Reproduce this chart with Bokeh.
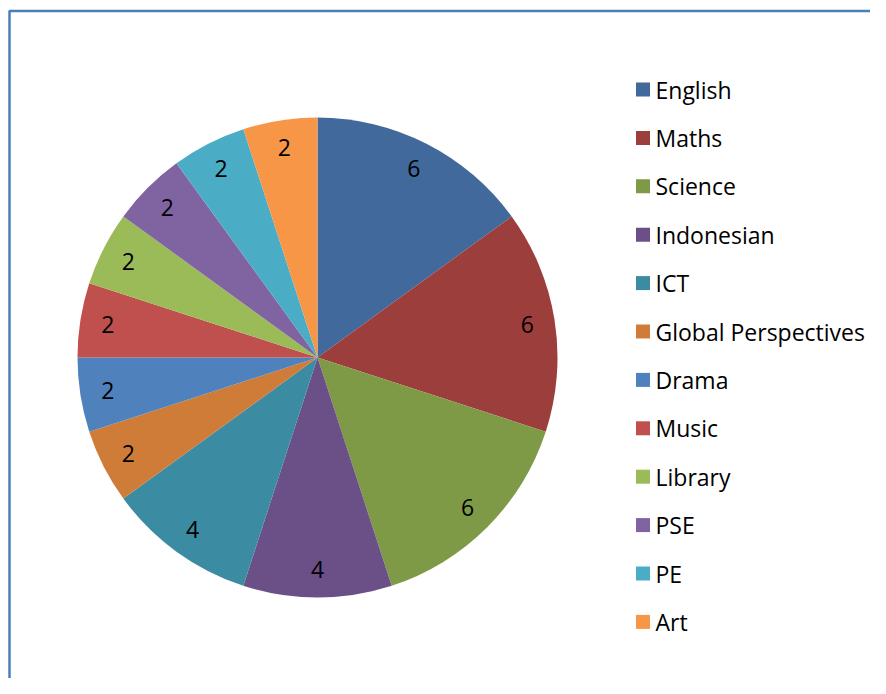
import math
from bokeh.plotting import figure
from bokeh.models import Range1d, ColumnDataSource
from bokeh.core.properties import value
from bokeh.embed import file_html
from bokeh.resources import INLINE

subjects = ["English", "Maths", "Science", "Indonesian", "ICT", "Global Perspectives",
            "Drama", "Music", "Library", "PSE", "PE", "Art"]
hours = [6, 6, 6, 4, 4, 2, 2, 2, 2, 2, 2, 2]
colors = ["#41699C", "#9C3E3B", "#7F9A47", "#6A5087", "#3B8BA3", "#D07C39",
          "#4F81BD", "#C0504D", "#9BBB59", "#8064A2", "#4BACC6", "#F79646"]

W, H = 870, 678
FONT = "Open Sans"
FS = "23px"

p = figure(width=W, height=H, output_backend="svg", toolbar_location=None,
           x_range=Range1d(0, W), y_range=Range1d(0, H), min_border=0,
           background_fill_color="white", border_fill_color="white")
p.axis.visible = False
p.grid.visible = False
p.outline_line_color = None

# pie geometry (screen-pixel data units)
cx, cy, r = 317, 321, 240
total = sum(hours)
starts, ends, lx, ly, labels = [], [], [], [], []
cum = 0.0
for h in hours:
    c0 = cum / total
    cum += h
    c1 = cum / total
    starts.append(math.pi / 2 - 2 * math.pi * c1)
    ends.append(math.pi / 2 - 2 * math.pi * c0)
    mid = math.pi / 2 - 2 * math.pi * (c0 + c1) / 2
    lx.append(cx + 0.885 * r * math.cos(mid))
    ly.append(cy + 0.885 * r * math.sin(mid))
    labels.append(str(h))

src = ColumnDataSource(dict(start=starts, end=ends, color=colors, lx=lx, ly=ly,
                            label=labels, name=subjects))
p.wedge(x=cx, y=cy, radius=r, start_angle="start", end_angle="end",
        direction="anticlock", fill_color="color", line_color=None, source=src)
p.text(x="lx", y="ly", text="label", source=src, text_font=value(FONT),
       text_font_size=FS, text_align="center", text_baseline="middle",
       text_color="#000000")

# legend
n = len(subjects)
row0, step = 589, 48.4
leg_y = [row0 - step * i for i in range(n)]
leg = ColumnDataSource(dict(y=leg_y, color=colors, name=subjects))
p.rect(x=642.5, y="y", width=14, height=14, fill_color="color", line_color=None, source=leg)
p.text(x=655, y="y", text="name", source=leg, text_font=value(FONT),
       text_font_size=FS, text_align="left", text_baseline="middle",
       text_color="#000000")

# frame: blue left/top border
p.line(x=[9, 9, W], y=[0, 667.5, 667.5], line_color="#4A7EBB", line_width=2.5)

open("out.html", "w").write(file_html(p, INLINE))
